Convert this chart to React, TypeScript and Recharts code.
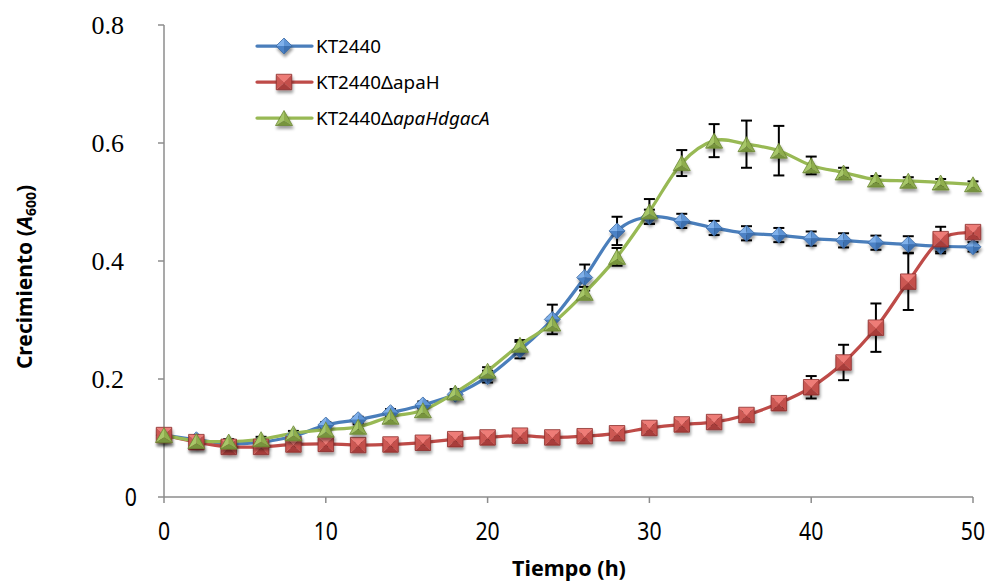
import React from 'react';
import { LineChart, Line, XAxis, YAxis, ErrorBar, Customized } from 'recharts';

const times = [0, 2, 4, 6, 8, 10, 12, 14, 16, 18, 20, 22, 24, 26, 28, 30, 32, 34, 36, 38, 40, 42, 44, 46, 48, 50];

const kt2440 = [0.105, 0.097, 0.09, 0.093, 0.103, 0.122, 0.131, 0.143, 0.156, 0.174, 0.204, 0.249, 0.301, 0.372, 0.451, 0.475, 0.468, 0.456, 0.447, 0.444, 0.438, 0.435, 0.431, 0.428, 0.425, 0.424];
const kt2440Err = [0.004, 0.004, 0.004, 0.004, 0.004, 0.005, 0.005, 0.006, 0.006, 0.008, 0.01, 0.014, 0.025, 0.022, 0.024, 0.012, 0.012, 0.012, 0.012, 0.012, 0.012, 0.012, 0.012, 0.014, 0.012, 0.008];

const apaH = [0.105, 0.093, 0.085, 0.085, 0.089, 0.09, 0.088, 0.089, 0.092, 0.098, 0.101, 0.104, 0.101, 0.103, 0.108, 0.117, 0.123, 0.127, 0.139, 0.159, 0.186, 0.228, 0.287, 0.365, 0.437, 0.449];
const apaHErr = [0.004, 0.004, 0.004, 0.004, 0.004, 0.004, 0.004, 0.004, 0.004, 0.004, 0.004, 0.004, 0.004, 0.004, 0.005, 0.005, 0.005, 0.005, 0.006, 0.008, 0.019, 0.03, 0.041, 0.048, 0.021, 0.008];

const apaHgacA = [0.105, 0.095, 0.094, 0.098, 0.108, 0.114, 0.119, 0.136, 0.147, 0.177, 0.214, 0.258, 0.294, 0.346, 0.407, 0.484, 0.566, 0.604, 0.598, 0.587, 0.562, 0.55, 0.538, 0.536, 0.533, 0.53];
const apaHgacAErr = [0.004, 0.004, 0.004, 0.004, 0.004, 0.004, 0.004, 0.005, 0.005, 0.006, 0.006, 0.008, 0.01, 0.01, 0.015, 0.021, 0.022, 0.028, 0.04, 0.042, 0.015, 0.008, 0.006, 0.006, 0.006, 0.005];

const xTicks = [0, 10, 20, 30, 40, 50];
const yTicks = [0, 0.2, 0.4, 0.6, 0.8];

const seriesNames = ['KT2440', 'KT2440\u0394apaH', 'KT2440\u0394apaHdgacA'];

const rows = times.map((t, i) => ({
  t,
  a: kt2440[i],
  aErr: kt2440Err[i],
  b: apaH[i],
  bErr: apaHErr[i],
  c: apaHgacA[i],
  cErr: apaHgacAErr[i],
}));

const BLUE = '#4a7ebb';
const RED = '#be4b48';
const GREEN = '#98b954';
const AXIS = '#8c8c8c';
const SANS = "'Noto Sans', 'Open Sans', sans-serif";

// Excel-like smoothed curve (Catmull-Rom as cubic Bezier)
const excelCurve = (context: any) => {
  let pts: number[][] = [];
  return {
    areaStart() {},
    areaEnd() {},
    lineStart() {
      pts = [];
    },
    lineEnd() {
      if (!pts.length) return;
      context.moveTo(pts[0][0], pts[0][1]);
      for (let i = 0; i < pts.length - 1; i++) {
        const p0 = pts[i - 1] || pts[i];
        const p1 = pts[i];
        const p2 = pts[i + 1];
        const p3 = pts[i + 2] || p2;
        const c1x = p1[0] + (p2[0] - p0[0]) / 6;
        const c1y = p1[1] + (p2[1] - p0[1]) / 6;
        const c2x = p2[0] - (p3[0] - p1[0]) / 6;
        const c2y = p2[1] - (p3[1] - p1[1]) / 6;
        context.bezierCurveTo(c1x, c1y, c2x, c2y, p2[0], p2[1]);
      }
    },
    point(x: number, y: number) {
      pts.push([+x, +y]);
    },
  };
};

const Diamond = ({ cx, cy }: { cx: number; cy: number }) => {
  const r = 8;
  const T = [cx, cy - r], R = [cx + r, cy], B = [cx, cy + r], L = [cx - r, cy];
  const C = [cx, cy];
  const p = (...a: number[][]) => a.map((q) => q.join(',')).join(' ');
  return (
    <g filter="url(#mkShadow)">
      <polygon points={p(L, T, C)} fill="#7fb0ea" />
      <polygon points={p(T, R, C)} fill="#5f95d6" />
      <polygon points={p(R, B, C)} fill="#3c6faf" />
      <polygon points={p(B, L, C)} fill="#4c82c6" />
      <polygon points={p(T, R, B, L)} fill="none" stroke="#3b6aa3" strokeWidth={0.8} />
    </g>
  );
};

const Square = ({ cx, cy }: { cx: number; cy: number }) => {
  const h = 7.75;
  const TL = [cx - h, cy - h], TR = [cx + h, cy - h], BR = [cx + h, cy + h], BL = [cx - h, cy + h];
  const C = [cx, cy + 1];
  const p = (...a: number[][]) => a.map((q) => q.join(',')).join(' ');
  return (
    <g filter="url(#mkShadow)">
      <polygon points={p(TL, TR, C)} fill="#ee7b77" />
      <polygon points={p(TR, BR, C)} fill="#c4504c" />
      <polygon points={p(BR, BL, C)} fill="#a83d3a" />
      <polygon points={p(BL, TL, C)} fill="#cc5853" />
      <polygon points={p(TL, TR, BR, BL)} fill="none" stroke="#8c2f2c" strokeWidth={0.8} />
    </g>
  );
};

const Triangle = ({ cx, cy }: { cx: number; cy: number }) => {
  const w = 8.5, h = 7.5;
  const T = [cx, cy - h], R = [cx + w, cy + h], L = [cx - w, cy + h];
  const C = [cx, cy + 2.5];
  const p = (...a: number[][]) => a.map((q) => q.join(',')).join(' ');
  return (
    <g filter="url(#mkShadow)">
      <polygon points={p(L, T, C)} fill="#a7c768" />
      <polygon points={p(T, R, C)} fill="#8fae4e" />
      <polygon points={p(R, L, C)} fill="#77943d" />
      <polygon points={p(T, R, L)} fill="none" stroke="#6b8733" strokeWidth={0.8} />
    </g>
  );
};

const makeDot = (Shape: any) => (props: any) => {
  const { cx, cy, index } = props;
  if (cx == null || cy == null) return <g key={`d${index}`} />;
  return <Shape key={`d${index}`} cx={cx} cy={cy} />;
};

const XTick = (props: any) => {
  const { x, payload } = props;
  return (
    <text
      transform={`translate(${x},531) scale(0.85,1)`}
      textAnchor="middle"
      dy="0.36em"
      fontFamily={SANS}
      fontSize={25}
      fill="#000"
    >
      {payload.value}
    </text>
  );
};

const YTick = (props: any) => {
  const { y, payload } = props;
  if (payload.value === 0) {
    return (
      <text
        transform={`translate(137,${y}) scale(0.85,1)`}
        textAnchor="end"
        dy="0.36em"
        fontFamily={SANS}
        fontSize={25}
        fill="#000"
      >
        0
      </text>
    );
  }
  return (
    <text x={124} y={y} dy="0.34em" textAnchor="end" fontFamily="'Liberation Serif', 'Times New Roman', serif" fontSize={26} fill="#000">
      {payload.value.toFixed(1)}
    </text>
  );
};

const Defs = () => (
  <defs>
    <filter id="mkShadow" x="-60%" y="-60%" width="220%" height="240%">
      <feGaussianBlur in="SourceAlpha" stdDeviation="1.6" />
      <feOffset dx="0.5" dy="3" result="o" />
      <feComponentTransfer>
        <feFuncA type="linear" slope="0.4" />
      </feComponentTransfer>
      <feMerge>
        <feMergeNode />
        <feMergeNode in="SourceGraphic" />
      </feMerge>
    </filter>
  </defs>
);

const Overlay = () => {
  const legendYs = [46, 82, 118];
  const colors = [BLUE, RED, GREEN];
  const shapes = [Diamond, Square, Triangle];
  return (
    <g>
      {legendYs.map((ly, i) => {
        const S = shapes[i];
        return (
          <g key={i}>
            <line x1={257} x2={312} y1={ly} y2={ly} stroke={colors[i]} strokeWidth={3.25} strokeLinecap="round" />
            <S cx={284} cy={ly} />
            <text x={316} y={ly} dy="0.36em" fontFamily={SANS} fontSize={18.8} fill="#000">
              {i < 2 ? seriesNames[i] : (
                <>
                  {'KT2440\u0394'}
                  <tspan fontStyle="italic">apaHdgacA</tspan>
                </>
              )}
            </text>
          </g>
        );
      })}
      <text x={569} y={576} textAnchor="middle" fontFamily={SANS} fontWeight="bold" fontSize={21.5} fill="#000">
        Tiempo (h)
      </text>
      <text transform="translate(32,277) rotate(-90)" textAnchor="middle" fontFamily={SANS} fontWeight="bold" fontSize={21} fill="#000">
        Crecimiento (<tspan fontStyle="italic">A</tspan>
        <tspan fontSize={14} dy={4}>600</tspan>
        <tspan dy={-4}>)</tspan>
      </text>
    </g>
  );
};

export default function App() {
  return (
    <div style={{ position: 'absolute', left: 0, top: 0, width: 986, height: 582, background: '#fff' }}>
      <LineChart width={986} height={582} data={rows} margin={{ top: 25, right: 13, bottom: 0, left: 0 }}>
        <Customized component={Defs} />
        <XAxis
          dataKey="t"
          type="number"
          domain={[0, 50]}
          ticks={xTicks}
          height={85}
          tickSize={6}
          stroke={AXIS}
          strokeWidth={1.5}
          tick={<XTick />}
        />
        <YAxis
          type="number"
          domain={[0, 0.8]}
          ticks={yTicks}
          width={164}
          tickSize={6}
          stroke={AXIS}
          strokeWidth={1.5}
          tick={<YTick />}
        />
        <Line dataKey="a" type={excelCurve as any} stroke={BLUE} strokeWidth={3.25} dot={makeDot(Diamond)} activeDot={false} isAnimationActive={false}>
          <ErrorBar dataKey="aErr" direction="y" width={5.5} stroke="#000" strokeWidth={2} isAnimationActive={false} />
        </Line>
        <Line dataKey="b" type={excelCurve as any} stroke={RED} strokeWidth={3.25} dot={makeDot(Square)} activeDot={false} isAnimationActive={false}>
          <ErrorBar dataKey="bErr" direction="y" width={5.5} stroke="#000" strokeWidth={2} isAnimationActive={false} />
        </Line>
        <Line dataKey="c" type={excelCurve as any} stroke={GREEN} strokeWidth={3.25} dot={makeDot(Triangle)} activeDot={false} isAnimationActive={false}>
          <ErrorBar dataKey="cErr" direction="y" width={5.5} stroke="#000" strokeWidth={2} isAnimationActive={false} />
        </Line>
        <Customized component={Overlay} />
      </LineChart>
    </div>
  );
}
